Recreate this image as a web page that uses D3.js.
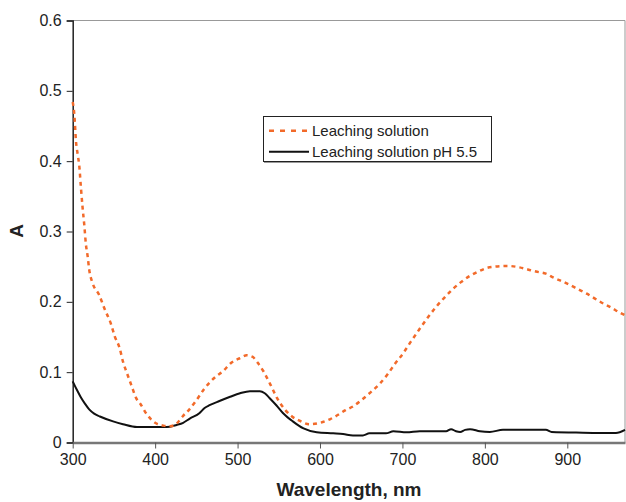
<!DOCTYPE html>
<html>
<head>
<meta charset="utf-8">
<script src="https://cdn.jsdelivr.net/npm/d3@7"></script>
<style>
  body { margin: 0; background: #fff; }
  svg { font-family: "Liberation Sans", Arial, sans-serif; }
</style>
</head>
<body>
<div id="chart"></div>
<script>
// Leaching solution (orange dashed), [wavelength nm, absorbance]
const leaching = [
  [300, 0.484], [302, 0.466], [304, 0.428], [306, 0.41], [308, 0.393], [310, 0.362],
  [312, 0.334], [314, 0.31], [316, 0.282], [318, 0.266], [320, 0.246], [324, 0.227],
  [332, 0.21], [339, 0.189], [346, 0.17], [351, 0.151], [357, 0.134], [361, 0.115],
  [366, 0.098], [371, 0.082], [377, 0.063], [382, 0.055], [390, 0.04], [400, 0.028],
  [410, 0.024], [418, 0.023], [426, 0.027], [434, 0.038], [440, 0.045], [450, 0.06],
  [460, 0.077], [474, 0.094], [482, 0.101], [492, 0.113], [503, 0.12], [511, 0.124],
  [518, 0.122], [524, 0.114], [531, 0.102], [540, 0.082], [548, 0.063], [558, 0.046],
  [566, 0.037], [575, 0.031], [587, 0.026], [600, 0.028], [612, 0.033], [620, 0.038],
  [631, 0.046], [641, 0.052], [651, 0.061], [661, 0.071], [672, 0.083], [682, 0.097],
  [691, 0.112], [701, 0.127], [710, 0.143], [720, 0.16], [731, 0.178], [741, 0.193],
  [751, 0.206], [761, 0.218], [771, 0.228], [782, 0.237], [792, 0.243], [802, 0.248],
  [812, 0.25], [828, 0.251], [842, 0.249], [852, 0.246], [862, 0.243], [874, 0.24],
  [884, 0.234], [894, 0.229], [903, 0.224], [913, 0.218], [923, 0.212], [933, 0.205],
  [943, 0.198], [953, 0.192], [963, 0.185], [970, 0.181]
];

// Leaching solution pH 5.5 (black solid)
const leachingPH = [
  [300, 0.087], [305, 0.075], [310, 0.064], [315, 0.055], [320, 0.047], [326, 0.041],
  [333, 0.037], [349, 0.03], [361, 0.026], [378, 0.022], [394, 0.022], [414, 0.022],
  [426, 0.025], [434, 0.028], [442, 0.034], [454, 0.042], [460, 0.049], [466, 0.053],
  [478, 0.059], [491, 0.065], [503, 0.07], [515, 0.073], [527, 0.073], [533, 0.07],
  [539, 0.063], [547, 0.053], [555, 0.042], [567, 0.03], [580, 0.02], [596, 0.0145],
  [616, 0.013], [628, 0.012], [640, 0.01], [652, 0.01], [660, 0.013], [680, 0.013],
  [689, 0.016], [705, 0.0145], [721, 0.016], [753, 0.016], [759, 0.019], [765, 0.016],
  [770, 0.015], [776, 0.018], [782, 0.019], [794, 0.016], [806, 0.015], [822, 0.018],
  [874, 0.018], [881, 0.015], [919, 0.014], [959, 0.0135], [970, 0.018]
];

const xTicks = [300, 400, 500, 600, 700, 800, 900];
const yTicks = [0, 0.1, 0.2, 0.3, 0.4, 0.5, 0.6];
const seriesNames = ["Leaching solution", "Leaching solution pH 5.5"];
const seriesColors = ["#f26a2a", "#111111"];

const width = 626, height = 502;
const plotLeft = 72.7, plotRight = 625, plotTop = 20.5, plotBottom = 442.5;

const svg = d3.select("#chart").append("svg")
  .attr("width", width)
  .attr("height", height);

const x = d3.scaleLinear().domain([300, 970]).range([plotLeft, plotRight]);
const y = d3.scaleLinear().domain([0, 0.6]).range([plotBottom, plotTop]);

// plot frame (top and right)
svg.append("line")
  .attr("x1", plotLeft).attr("x2", plotRight).attr("y1", plotTop).attr("y2", plotTop)
  .attr("stroke", "#999").attr("stroke-width", 1);
svg.append("line")
  .attr("x1", plotRight).attr("x2", plotRight).attr("y1", plotTop).attr("y2", plotBottom)
  .attr("stroke", "#999").attr("stroke-width", 1);

// y axis
const yAxis = svg.append("g")
  .attr("transform", `translate(${plotLeft},0)`)
  .call(d3.axisLeft(y).tickValues(yTicks).tickSize(6).tickPadding(5)
    .tickFormat(d => d === 0 ? "0" : d3.format(".1f")(d)));
yAxis.select(".domain").attr("stroke", "#222").attr("stroke-width", 1.5);
yAxis.selectAll(".tick line").attr("stroke", "#222");
yAxis.selectAll("text").attr("font-size", 16).attr("fill", "#222");

// x axis
const xAxis = svg.append("g")
  .attr("transform", `translate(0,${plotBottom})`)
  .call(d3.axisBottom(x).tickValues(xTicks).tickSize(6).tickPadding(5).tickSizeOuter(0));
xAxis.select(".domain").attr("stroke", "#777").attr("stroke-width", 2.5);
xAxis.selectAll(".tick line").attr("stroke", "#555");
xAxis.selectAll("text").attr("font-size", 16).attr("fill", "#222");

// axis titles
svg.append("text")
  .attr("x", 349).attr("y", 496)
  .attr("text-anchor", "middle")
  .attr("font-size", 19).attr("font-weight", "bold").attr("fill", "#222")
  .text("Wavelength, nm");

svg.append("text")
  .attr("transform", "translate(23,231) rotate(-90)")
  .attr("text-anchor", "middle")
  .attr("font-size", 19).attr("font-weight", "bold").attr("fill", "#222")
  .text("A");

const line = d3.line()
  .x(d => x(d[0]))
  .y(d => y(d[1]))
  .curve(d3.curveMonotoneX);

svg.append("path")
  .datum(leachingPH)
  .attr("fill", "none")
  .attr("stroke", seriesColors[1])
  .attr("stroke-width", 2)
  .attr("d", line);

svg.append("path")
  .datum(leaching)
  .attr("fill", "none")
  .attr("stroke", seriesColors[0])
  .attr("stroke-width", 2.5)
  .attr("stroke-dasharray", "4,4")
  .attr("d", line);

// legend
const legend = svg.append("g");
legend.append("rect")
  .attr("x", 263.5).attr("y", 116.5).attr("width", 228).attr("height", 45)
  .attr("fill", "#fff").attr("stroke", "#222").attr("stroke-width", 1);
legend.append("line")
  .attr("x1", 264).attr("x2", 492).attr("y1", 162.5).attr("y2", 162.5)
  .attr("stroke", "#999").attr("stroke-width", 1);

seriesNames.forEach((name, i) => {
  const ly = 130.7 + i * 21;
  legend.append("line")
    .attr("x1", 269).attr("x2", 309).attr("y1", ly).attr("y2", ly)
    .attr("stroke", seriesColors[i])
    .attr("stroke-width", i === 0 ? 2.5 : 2)
    .attr("stroke-dasharray", i === 0 ? "5,6" : null);
  legend.append("text")
    .attr("x", 312).attr("y", ly + 5)
    .attr("font-size", 15).attr("fill", "#222")
    .text(name);
});
</script>
</body>
</html>
